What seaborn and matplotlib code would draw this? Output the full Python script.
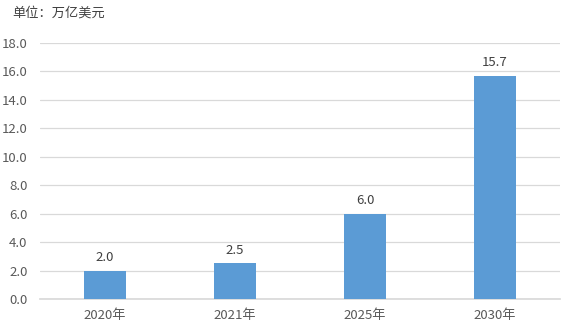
import pandas as pd
import seaborn as sns
import matplotlib.pyplot as plt

years = ["2020年", "2021年", "2025年", "2030年"]
values = [2.0, 2.5, 6.0, 15.7]
unit_label = "单位：万亿美元"

df = pd.DataFrame({"year": years, "value": values})

sns.set_theme(style="white")
plt.rcParams['font.family'] = ['Noto Sans CJK SC', 'DejaVu Sans']

fig = plt.figure(figsize=(5.71, 3.31), dpi=100)
ax = fig.add_axes([40 / 571, 32 / 331, 520 / 571, 256 / 331])

sns.barplot(data=df, x="year", y="value", color="#5B9BD5", width=0.32,
            saturation=1, ax=ax, zorder=3, linewidth=0)

ax.set_ylim(0, 18)
ax.set_yticks([i * 2 for i in range(10)])
ax.set_yticklabels([f"{i * 2:.1f}" for i in range(10)])
ax.set_xlim(-0.5, 3.5)
ax.grid(axis="y", color="#d9d9d9", linewidth=0.9, zorder=0)
for s in ["top", "right", "left"]:
    ax.spines[s].set_visible(False)
ax.spines["bottom"].set_color("#d9d9d9")
ax.tick_params(axis="both", length=0, labelsize=9.5, colors="#595959")
ax.tick_params(axis="y", pad=9)
ax.tick_params(axis="x", pad=7)
ax.set_xlabel("")
ax.set_ylabel("")

for i, v in enumerate(values):
    ax.annotate(f"{v:.1f}", (i, v), xytext=(0, 4.5), textcoords="offset points",
                ha="center", va="bottom", fontsize=9.5, color="#404040")

fig.text(12 / 571, 1 - 13 / 331, unit_label, ha="left", va="center",
         fontsize=9.5, color="#404040")

fig.savefig("out.png", dpi=100, facecolor="white")
